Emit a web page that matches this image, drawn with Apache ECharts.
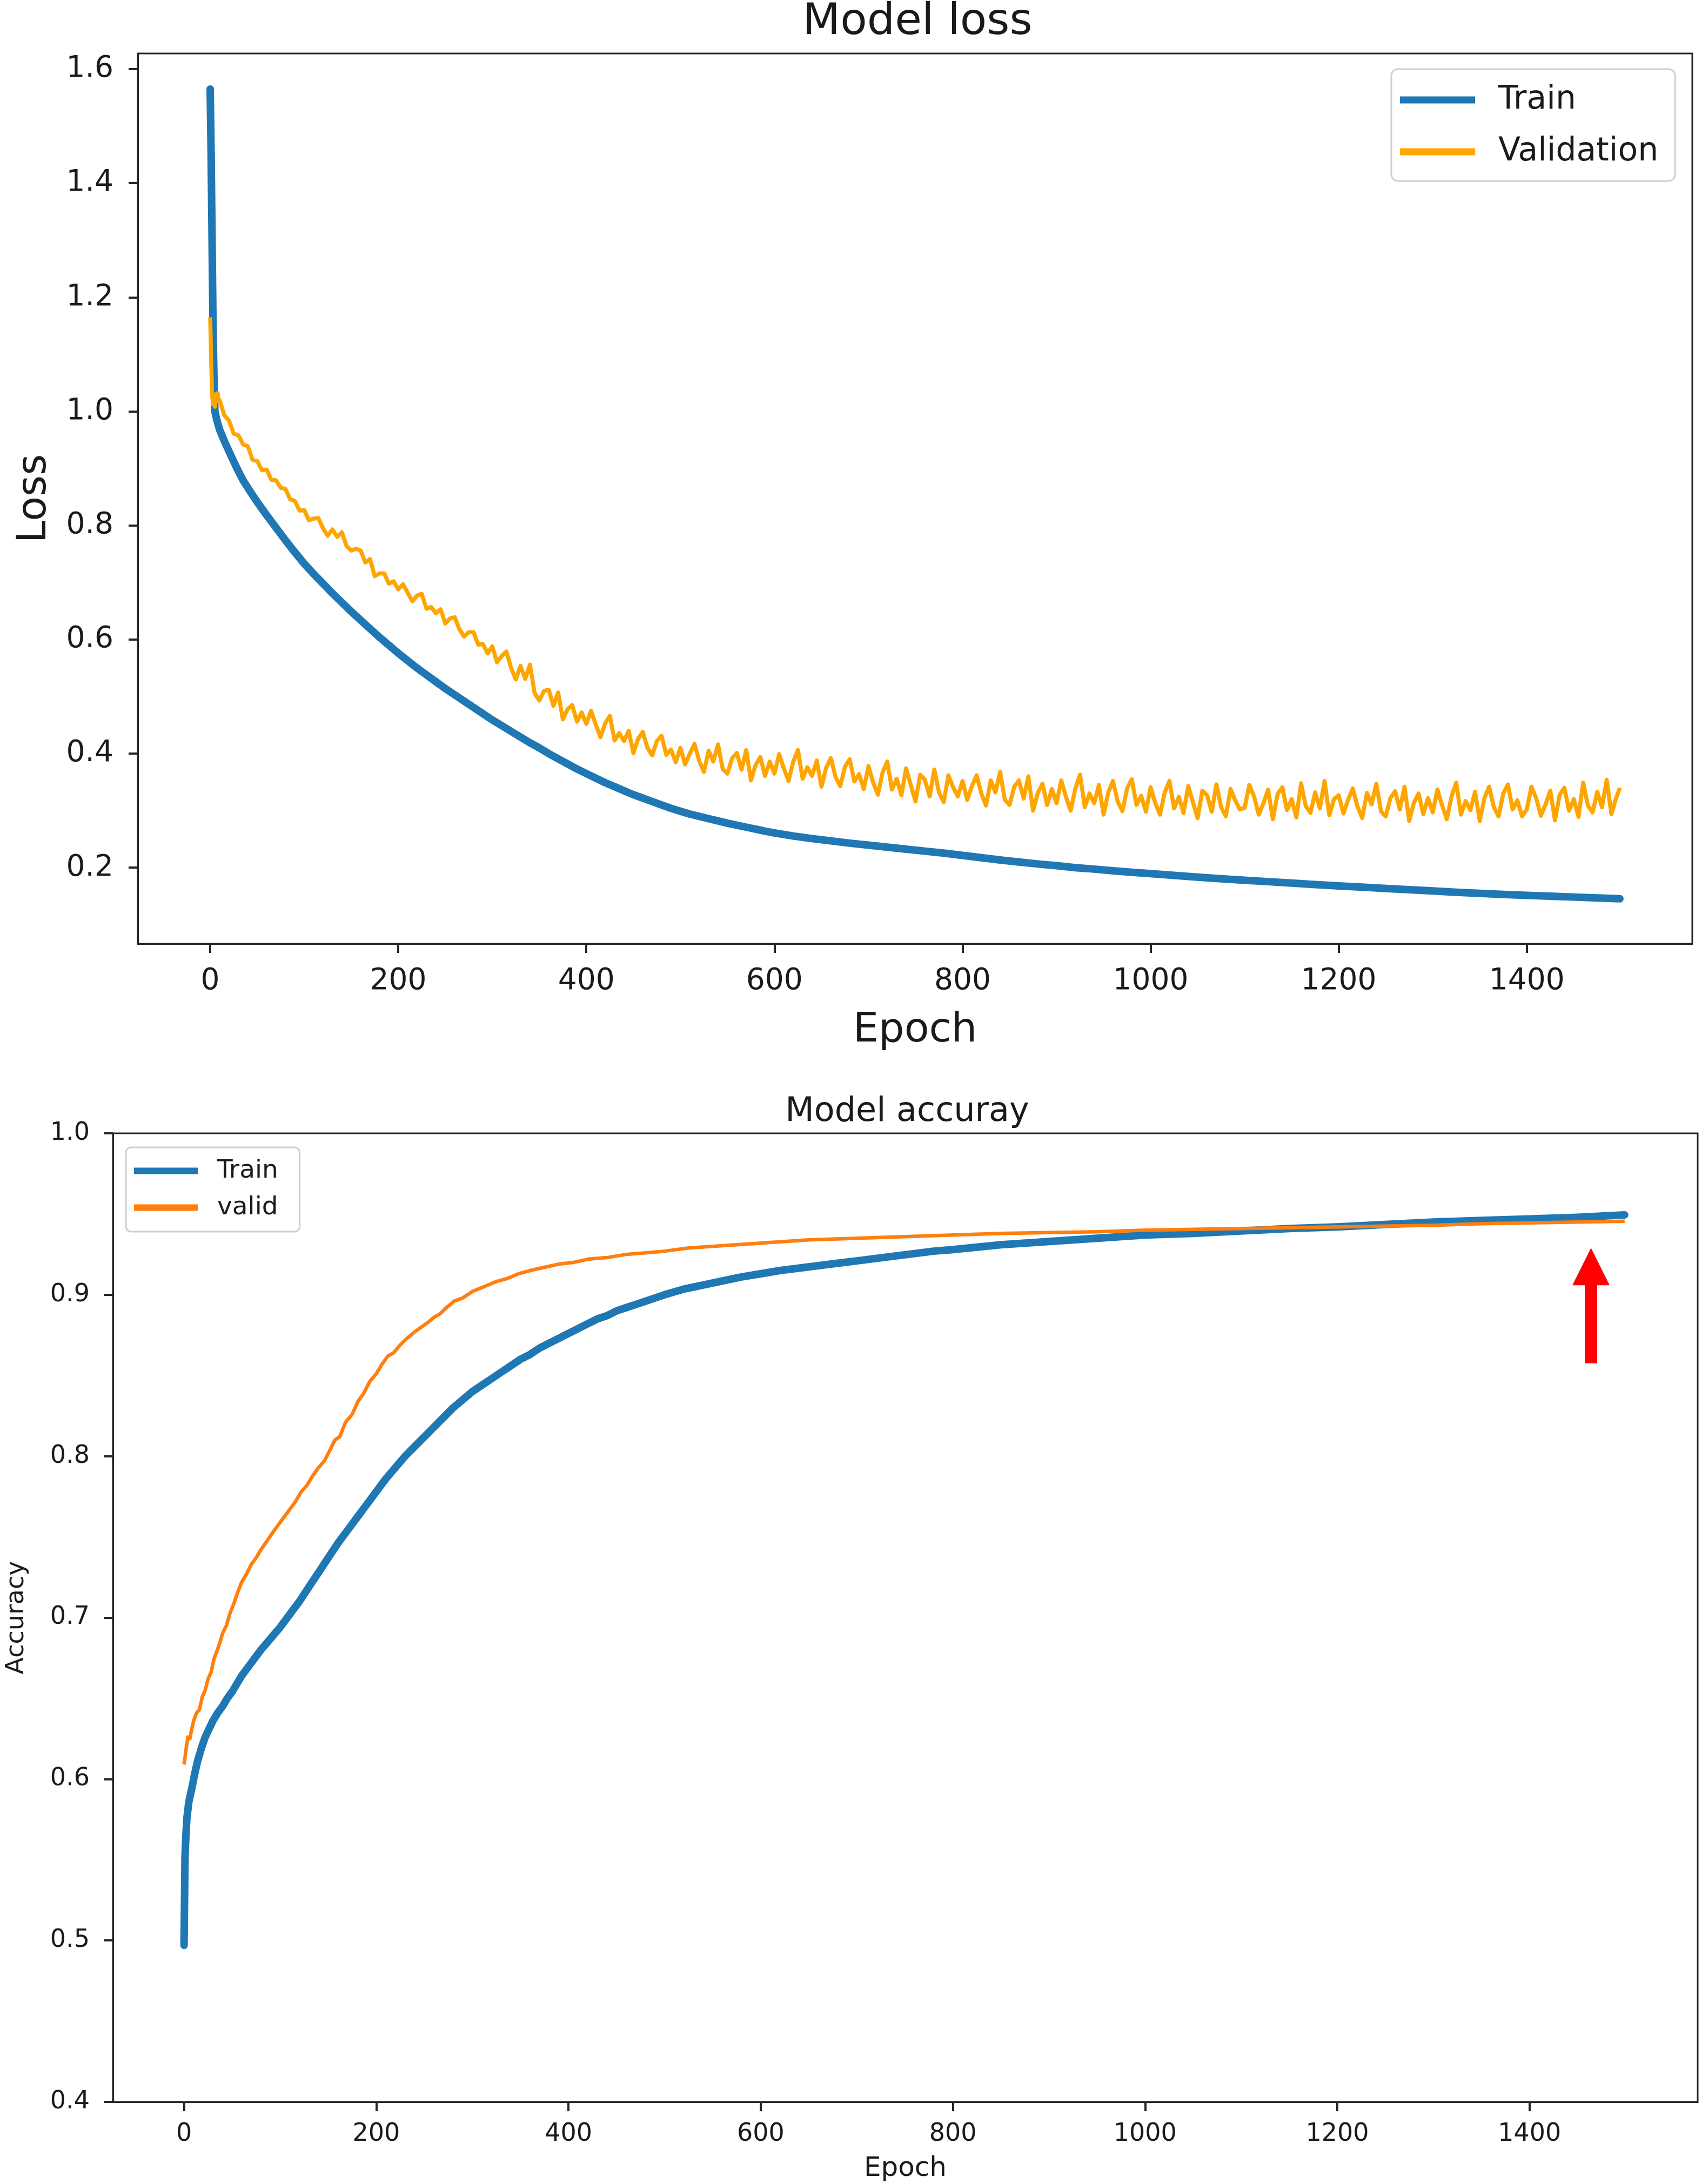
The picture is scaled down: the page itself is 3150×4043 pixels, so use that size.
<!DOCTYPE html>
<html><head><meta charset="utf-8">
<script src="https://cdn.jsdelivr.net/npm/echarts@6/dist/echarts.min.js"></script>
<style>html,body{margin:0;padding:0;background:#fff}#c{width:3150px;height:4043px}</style>
</head><body><div id="c"></div>
<script>
// ---------- tick labels ----------
const epochTicks = [0, 200, 400, 600, 800, 1000, 1200, 1400];
const lossTicks = [0.2, 0.4, 0.6, 0.8, 1.0, 1.2, 1.4, 1.6];
const accTicks = [0.4, 0.5, 0.6, 0.7, 0.8, 0.9, 1.0];

// ---------- Model loss: Train ----------
const trainLossEpochs = [0,1,2,3,4,5,7,10,15,20,25,30,35,40,
  50,60,70,80,90,100,110,120,130,140,150,160,170,180,190,200,210,220,230,240,250,260,270,280,290,300,
  310,320,330,340,350,360,370,380,390,400,410,420,430,440,450,460,470,480,490,500,510,520,530,540,550,560,570,580,590,600,
  620,640,660,680,700,720,740,760,780,800,820,840,860,880,900,920,940,960,980,1000,
  1025,1050,1075,1100,1125,1150,1175,1200,1225,1250,1275,1300,1325,1350,1375,1400,1425,1450,1475,1499];
const trainLoss = [1.565,1.45,1.3,1.15,1.06,1.0,0.985,0.968,0.948,0.93,0.912,0.895,0.879,0.866,
  0.841,0.818,0.796,0.774,0.753,0.733,0.715,0.698,0.681,0.665,0.649,0.634,0.619,0.604,0.59,0.576,0.563,0.55,0.538,0.526,0.514,0.503,0.492,0.481,0.47,0.459,
  0.449,0.439,0.429,0.419,0.41,0.4,0.391,0.382,0.373,0.365,0.357,0.349,0.342,0.335,0.328,0.322,0.316,0.31,0.304,0.299,0.294,0.29,0.286,0.282,0.278,0.2745,0.271,0.2675,0.264,0.261,
  0.2555,0.251,0.247,0.243,0.2395,0.236,0.2325,0.229,0.2255,0.2215,0.2175,0.2135,0.21,0.2065,0.2035,0.2,0.1975,0.1945,0.192,0.1895,
  0.1865,0.1835,0.1805,0.178,0.1755,0.173,0.1705,0.168,0.1658,0.1636,0.1614,0.1592,0.157,0.155,0.1532,0.1515,0.15,0.1485,0.147,0.1455];

// ---------- Model loss: Validation ----------
const valLossEarlyEpochs = [0,1,2,3,4,5,6,7,8,9];
const valLossEarly = [1.165,1.09,1.03,1.012,1.02,1.008,1.03,1.025,1.032,1.018];
const valLossStart = 10, valLossStep = 5;   // values below: every 5 epochs, epoch 10 .. 1495
const valLossEvery5 = [
  1.02,0.993,0.984,0.961,0.958,0.942,0.939,0.915,0.913,0.897,0.898,0.88,0.879,0.866,0.864,0.846,0.843,0.826,
  0.827,0.809,0.812,0.813,0.795,0.782,0.793,0.78,0.788,0.764,0.756,0.759,0.756,0.735,0.741,0.711,0.716,0.716,0.698,0.702,
  0.688,0.697,0.682,0.667,0.677,0.68,0.654,0.657,0.646,0.653,0.628,0.637,0.639,0.618,0.605,0.613,0.613,0.591,0.592,0.576,
  0.588,0.56,0.571,0.579,0.55,0.53,0.554,0.531,0.556,0.506,0.493,0.51,0.512,0.484,0.507,0.46,0.478,0.485,0.456,0.472,
  0.452,0.475,0.451,0.429,0.453,0.466,0.423,0.436,0.422,0.44,0.401,0.426,0.438,0.41,0.397,0.422,0.431,0.398,0.407,0.385,
  0.41,0.381,0.40,0.417,0.387,0.368,0.405,0.386,0.416,0.373,0.365,0.392,0.401,0.372,0.406,0.353,0.38,0.394,0.361,0.386,
  0.365,0.399,0.374,0.352,0.386,0.406,0.356,0.376,0.361,0.388,0.342,0.375,0.392,0.359,0.343,0.377,0.39,0.351,0.364,0.338,
  0.378,0.349,0.328,0.367,0.386,0.337,0.356,0.327,0.374,0.345,0.316,0.363,0.354,0.325,0.372,0.332,0.315,0.362,0.341,0.325,
  0.352,0.319,0.343,0.362,0.33,0.309,0.353,0.332,0.368,0.319,0.31,0.342,0.353,0.321,0.36,0.30,0.331,0.347,0.31,0.338,
  0.313,0.353,0.324,0.30,0.339,0.363,0.306,0.33,0.313,0.345,0.293,0.332,0.352,0.316,0.299,0.339,0.355,0.31,0.326,0.298,
  0.341,0.313,0.293,0.332,0.352,0.304,0.324,0.296,0.343,0.315,0.287,0.335,0.327,0.298,0.346,0.306,0.29,0.338,0.318,0.302,
  0.305,0.345,0.325,0.293,0.313,0.337,0.285,0.329,0.341,0.301,0.32,0.288,0.348,0.308,0.296,0.332,0.304,0.352,0.292,0.32,
  0.327,0.295,0.319,0.339,0.307,0.287,0.331,0.311,0.347,0.299,0.29,0.322,0.334,0.302,0.342,0.282,0.314,0.33,0.294,0.322,
  0.297,0.337,0.309,0.285,0.325,0.349,0.293,0.317,0.301,0.333,0.282,0.322,0.342,0.306,0.29,0.33,0.346,0.302,0.318,0.29,
  0.302,0.342,0.322,0.291,0.311,0.335,0.283,0.328,0.34,0.30,0.32,0.289,0.349,0.309,0.297,0.333,0.306,0.354,0.294,0.322];
const valLossLast = [1499, 0.34];

// ---------- Model accuray: Train ----------
const trainAccEpochs = [0,1,2,3,5,8,11,14,18,22,26,30,35,40,45,50,55,60,
  70,80,90,100,110,120,130,140,150,160,170,180,190,200,210,220,230,240,250,260,270,280,290,300,
  310,320,330,340,350,360,370,380,390,400,410,420,430,440,450,460,470,480,490,500,
  520,540,560,580,600,620,640,660,680,700,720,740,760,780,800,
  850,900,950,1000,1050,1100,1150,1200,1250,1300,1350,1400,1450,1499];
const trainAcc = [0.497,0.552,0.566,0.576,0.586,0.594,0.603,0.611,0.619,0.626,0.631,0.636,0.641,0.645,0.65,0.654,0.659,0.664,
  0.672,0.68,0.687,0.694,0.702,0.71,0.719,0.728,0.737,0.746,0.754,0.762,0.77,0.778,0.786,0.793,0.80,0.806,0.812,0.818,0.824,0.83,0.835,0.84,
  0.844,0.848,0.852,0.856,0.86,0.863,0.867,0.87,0.873,0.876,0.879,0.882,0.885,0.887,0.89,0.892,0.894,0.896,0.898,0.90,
  0.9035,0.906,0.9085,0.911,0.913,0.915,0.9165,0.918,0.9195,0.921,0.9225,0.924,0.9255,0.927,0.928,
  0.931,0.933,0.935,0.937,0.938,0.9395,0.941,0.942,0.9435,0.945,0.946,0.947,0.948,0.9495];

// ---------- Model accuray: valid ----------
const validAccEpochs = [0,2,4,6,8,10,13,16,19,22,25,28,31,34,37,40,44,48,52,56,60,65,70,75,80,88,95,100,105,110,
  116,122,128,134,140,146,152,157,162,168,175,181,187,193,200,206,212,218,225,232,240,247,254,260,266,273,281,290,300,
  312,324,336,348,360,375,390,405,420,440,460,480,500,525,550,575,600,650,700,750,800,850,900,950,1000,
  1050,1100,1150,1200,1250,1300,1350,1400,1450,1499];
const validAcc = [0.609,0.618,0.626,0.625,0.631,0.636,0.641,0.643,0.651,0.655,0.662,0.666,0.674,0.679,0.684,0.69,0.695,0.703,0.709,0.716,0.722,0.727,0.733,0.737,0.742,0.749,0.755,0.759,0.763,0.767,
  0.772,0.778,0.782,0.788,0.793,0.797,0.804,0.81,0.812,0.821,0.826,0.834,0.839,0.846,0.851,0.857,0.862,0.864,0.869,0.873,0.877,0.88,0.883,0.886,0.888,0.892,0.896,0.898,0.902,
  0.905,0.908,0.91,0.913,0.915,0.917,0.919,0.92,0.922,0.923,0.925,0.926,0.927,0.929,0.93,0.931,0.932,0.934,0.935,0.936,0.937,0.938,0.9385,0.939,0.94,
  0.9405,0.941,0.9415,0.942,0.9425,0.943,0.944,0.9445,0.945,0.9455];

// ---------- annotation (red arrow) in data coordinates ----------
const arrowTip = [1464, 0.929];
const arrowTail = [1464, 0.8575];

// ---------- build series data ----------
function pairs(xs, ys) { return xs.map((x, i) => [x, ys[i]]); }
const valLossData = pairs(valLossEarlyEpochs, valLossEarly)
  .concat(valLossEvery5.map((v, i) => [valLossStart + i * valLossStep, v]))
  .concat([valLossLast]);

const FONT = 'DejaVu Sans';
const TXT = '#1a1a1a';
const AX = '#262626';
const TICK_LEN = 17, TICK_W = 4;
const fmt1 = v => Number(v).toFixed(1);
const fmt0 = v => String(Math.round(v));
const axLine = { show: true, onZero: false, lineStyle: { color: AX, width: 3 } };
const tick = vals => ({ show: true, length: TICK_LEN, lineStyle: { color: AX, width: TICK_W }, customValues: vals });

const chart = echarts.init(document.getElementById('c'), null, { renderer: 'canvas' });
const option = {
  animation: false,
  backgroundColor: '#ffffff',
  textStyle: { fontFamily: FONT, color: TXT },
  title: [
    { text: 'Model loss', left: 1693, top: -4, textAlign: 'center',
      textStyle: { fontFamily: FONT, fontSize: 81, fontWeight: 'normal', color: TXT } },
    { text: 'Model accuray', left: 1674, top: 2023, textAlign: 'center',
      textStyle: { fontFamily: FONT, fontSize: 62, fontWeight: 'normal', color: TXT } }
  ],
  legend: [
    { orient: 'vertical', left: 2575, top: 128, padding: [27, 31, 24, 16],
      itemWidth: 139, itemHeight: 13, itemGap: 36,
      borderColor: '#cfcfcf', borderWidth: 3, borderRadius: 12, backgroundColor: '#ffffff',
      itemStyle: { borderWidth: 0 },
      textStyle: { fontFamily: FONT, fontSize: 60, lineHeight: 60, color: TXT, padding: [0, 0, 0, 38] },
      data: [{ name: 'Train', icon: 'rect' }, { name: 'Validation', icon: 'rect' }] },
    { orient: 'vertical', left: 233, top: 2124, padding: [20, 25, 21, 15],
      itemWidth: 118, itemHeight: 12, itemGap: 21,
      borderColor: '#cfcfcf', borderWidth: 3, borderRadius: 10, backgroundColor: '#ffffff',
      itemStyle: { borderWidth: 0 },
      textStyle: { fontFamily: FONT, fontSize: 47, lineHeight: 47, color: TXT, padding: [0, 0, 0, 31] },
      data: [{ name: 'Train ', icon: 'rect' }, { name: 'valid', icon: 'rect' }] }
  ],
  grid: [
    { left: 255, top: 99, width: 2877, height: 1648, show: true, borderColor: AX, borderWidth: 3, backgroundColor: 'transparent', containLabel: false },
    { left: 207, top: 2098, width: 2935, height: 1793, show: true, borderColor: AX, borderWidth: 3, backgroundColor: 'transparent', containLabel: false }
  ],
  xAxis: [
    { type: 'value', gridIndex: 0, min: -77, max: 1576,
      name: 'Epoch', nameLocation: 'middle', nameGap: 124,
      nameTextStyle: { fontFamily: FONT, fontSize: 75, color: TXT },
      axisLine: axLine, splitLine: { show: false }, axisTick: tick(epochTicks),
      axisLabel: { fontFamily: FONT, fontSize: 55, color: TXT, margin: 42, customValues: epochTicks, formatter: fmt0 } },
    { type: 'value', gridIndex: 1, min: -74, max: 1575,
      name: 'Epoch', nameLocation: 'middle', nameGap: 99,
      nameTextStyle: { fontFamily: FONT, fontSize: 50, color: TXT },
      axisLine: axLine, splitLine: { show: false }, axisTick: tick(epochTicks),
      axisLabel: { fontFamily: FONT, fontSize: 46, color: TXT, margin: 37, customValues: epochTicks, formatter: fmt0 } }
  ],
  yAxis: [
    { type: 'value', gridIndex: 0, min: 0.0667, max: 1.6274,
      name: 'Loss', nameLocation: 'middle', nameGap: 153,
      nameTextStyle: { fontFamily: FONT, fontSize: 75, color: TXT },
      axisLine: axLine, splitLine: { show: false }, axisTick: tick(lossTicks),
      axisLabel: { fontFamily: FONT, fontSize: 55, color: TXT, margin: 45, customValues: lossTicks, formatter: fmt1 } },
    { type: 'value', gridIndex: 1, min: 0.4, max: 1.0, interval: 0.1,
      name: 'Accuracy', nameLocation: 'middle', nameGap: 155,
      nameTextStyle: { fontFamily: FONT, fontSize: 46, color: TXT },
      axisLine: axLine, splitLine: { show: false }, axisTick: tick(accTicks),
      axisLabel: { fontFamily: FONT, fontSize: 46, color: TXT, margin: 43, customValues: accTicks, formatter: fmt1 } }
  ],
  series: [
    { name: 'Train', type: 'line', xAxisIndex: 0, yAxisIndex: 0, showSymbol: false, symbol: 'none',
      color: '#1f77b4', lineStyle: { color: '#1f77b4', width: 14, join: 'round', cap: 'round' },
      data: pairs(trainLossEpochs, trainLoss) },
    { name: 'Validation', type: 'line', xAxisIndex: 0, yAxisIndex: 0, showSymbol: false, symbol: 'none',
      color: '#ffa500', lineStyle: { color: '#ffa500', width: 7.5, join: 'round' },
      data: valLossData },
    { name: 'Train ', type: 'line', xAxisIndex: 1, yAxisIndex: 1, showSymbol: false, symbol: 'none',
      color: '#1f77b4', lineStyle: { color: '#1f77b4', width: 14, join: 'round', cap: 'round' },
      data: pairs(trainAccEpochs, trainAcc) },
    { name: 'valid', type: 'line', xAxisIndex: 1, yAxisIndex: 1, showSymbol: false, symbol: 'none',
      color: '#ff7f0e', lineStyle: { color: '#ff7f0e', width: 6.5, join: 'round' },
      data: pairs(validAccEpochs, validAcc) }
  ]
};
chart.setOption(option);

// red arrow placed through the accuracy grid's scales
const tip = chart.convertToPixel({ gridIndex: 1 }, arrowTip);
const tail = chart.convertToPixel({ gridIndex: 1 }, arrowTail);
const headLen = 69, headHalf = 34.5, shaftHalf = 11.5;
const baseY = tip[1] + headLen;
chart.setOption({
  graphic: [{
    type: 'polygon', z: 100,
    shape: { points: [
      [tip[0], tip[1]], [tip[0] + headHalf, baseY], [tip[0] + shaftHalf, baseY],
      [tip[0] + shaftHalf, tail[1]], [tip[0] - shaftHalf, tail[1]], [tip[0] - shaftHalf, baseY],
      [tip[0] - headHalf, baseY]
    ] },
    style: { fill: '#ff0000' }
  }]
});
</script>
</body></html>
